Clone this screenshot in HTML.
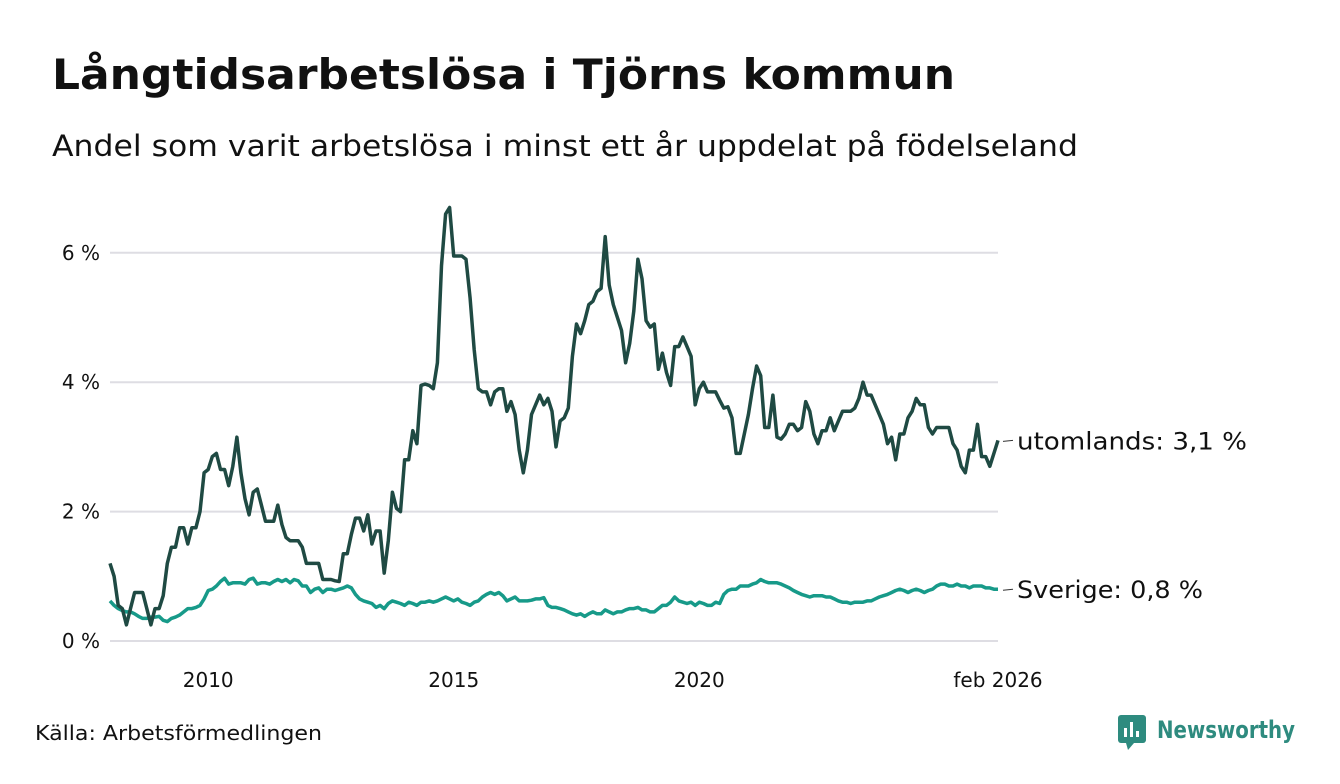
<!DOCTYPE html>
<html><head><meta charset="utf-8">
<style>
body{margin:0;background:#fff;width:1340px;height:780px;overflow:hidden;font-family:"DejaVu Sans","Liberation Sans",sans-serif;}
svg text{font-family:"DejaVu Sans","Liberation Sans",sans-serif;}
</style></head>
<body>
<svg width="1340" height="780" xmlns="http://www.w3.org/2000/svg">
<text x="52" y="89" font-size="42" font-weight="bold" fill="#111" textLength="903" lengthAdjust="spacingAndGlyphs">Långtidsarbetslösa i Tjörns kommun</text>
<text x="52" y="156" font-size="29" fill="#111" textLength="1026" lengthAdjust="spacingAndGlyphs">Andel som varit arbetslösa i minst ett år uppdelat på födelseland</text>
<g id="grid"></g>
<g id="xaxis"></g>
<g id="lines"></g>
<text x="35" y="740" font-size="20" fill="#111" textLength="287" lengthAdjust="spacingAndGlyphs">Källa: Arbetsförmedlingen</text>
<g>
<rect x="1118" y="715" width="28" height="28" rx="3" fill="#2e8b7f"/>
<rect x="1124" y="728" width="3" height="9" fill="#fff"/><rect x="1130" y="722" width="3" height="15" fill="#fff"/><rect x="1136" y="731" width="3" height="6" fill="#fff"/>
<polygon points="1126,743 1134,743 1128,750" fill="#2e8b7f"/>
<text x="1157" y="738" font-size="24" font-weight="bold" fill="#2e8b7f" textLength="138" lengthAdjust="spacingAndGlyphs">Newsworthy</text>
</g>
</svg>
<script>
const yTicks=[0,2,4,6];
const xTickYears=[2010,2015,2020];
const startYear=2008;
const utomlands=[
1.2,1.0,0.55,0.5,0.25,0.5,0.75,0.75,0.75,0.5,0.25,0.5,
0.5,0.7,1.2,1.45,1.45,1.75,1.75,1.5,1.75,1.75,2.0,2.6,
2.65,2.85,2.9,2.65,2.65,2.4,2.7,3.15,2.6,2.2,1.95,2.3,
2.35,2.1,1.85,1.85,1.85,2.1,1.8,1.6,1.55,1.55,1.55,1.45,
1.2,1.2,1.2,1.2,0.95,0.95,0.95,0.93,0.92,1.35,1.35,1.65,
1.9,1.9,1.7,1.95,1.5,1.7,1.7,1.05,1.55,2.3,2.05,2.0,
2.8,2.8,3.25,3.05,3.95,3.97,3.95,3.9,4.3,5.8,6.6,6.7,
5.95,5.95,5.95,5.9,5.3,4.5,3.9,3.85,3.85,3.65,3.85,3.9,
3.9,3.55,3.7,3.5,2.95,2.6,2.95,3.5,3.65,3.8,3.65,3.75,
3.55,3.0,3.4,3.45,3.6,4.4,4.9,4.75,4.95,5.2,5.25,5.4,
5.45,6.25,5.5,5.2,5.0,4.8,4.3,4.6,5.1,5.9,5.6,4.95,
4.85,4.9,4.2,4.45,4.15,3.95,4.55,4.55,4.7,4.55,4.4,3.65,
3.9,4.0,3.85,3.85,3.85,3.72,3.6,3.62,3.45,2.9,2.9,3.2,
3.5,3.9,4.25,4.1,3.3,3.3,3.8,3.15,3.12,3.2,3.35,3.35,
3.25,3.3,3.7,3.55,3.2,3.05,3.25,3.25,3.45,3.25,3.4,3.55,
3.55,3.55,3.6,3.75,4.0,3.8,3.8,3.65,3.5,3.35,3.05,3.15,
2.8,3.2,3.2,3.45,3.55,3.75,3.65,3.65,3.3,3.2,3.3,3.3,
3.3,3.3,3.05,2.95,2.7,2.6,2.95,2.95,3.35,2.85,2.85,2.7,
2.9,3.1];
const sverige=[
0.62,0.55,0.5,0.47,0.45,0.45,0.42,0.38,0.35,0.35,0.37,0.37,
0.38,0.32,0.3,0.35,0.37,0.4,0.45,0.5,0.5,0.52,0.55,0.65,
0.78,0.8,0.85,0.92,0.97,0.88,0.9,0.9,0.9,0.88,0.95,0.97,
0.88,0.9,0.9,0.88,0.92,0.95,0.92,0.95,0.9,0.95,0.93,0.85,
0.85,0.75,0.8,0.82,0.75,0.8,0.8,0.78,0.8,0.82,0.85,0.82,
0.72,0.65,0.62,0.6,0.58,0.52,0.55,0.5,0.58,0.62,0.6,0.58,
0.55,0.6,0.58,0.55,0.6,0.6,0.62,0.6,0.62,0.65,0.68,0.65,
0.62,0.65,0.6,0.58,0.55,0.6,0.62,0.68,0.72,0.75,0.72,0.75,
0.7,0.62,0.65,0.68,0.62,0.62,0.62,0.63,0.65,0.65,0.67,0.55,
0.52,0.52,0.5,0.48,0.45,0.42,0.4,0.42,0.38,0.42,0.45,0.42,
0.42,0.48,0.45,0.42,0.45,0.45,0.48,0.5,0.5,0.52,0.48,0.48,
0.45,0.45,0.5,0.55,0.55,0.6,0.68,0.62,0.6,0.58,0.6,0.55,
0.6,0.58,0.55,0.55,0.6,0.58,0.72,0.78,0.8,0.8,0.85,0.85,
0.85,0.88,0.9,0.95,0.92,0.9,0.9,0.9,0.88,0.85,0.82,0.78,
0.75,0.72,0.7,0.68,0.7,0.7,0.7,0.68,0.68,0.65,0.62,0.6,
0.6,0.58,0.6,0.6,0.6,0.62,0.62,0.65,0.68,0.7,0.72,0.75,
0.78,0.8,0.78,0.75,0.78,0.8,0.78,0.75,0.78,0.8,0.85,0.88,
0.88,0.85,0.85,0.88,0.85,0.85,0.82,0.85,0.85,0.85,0.82,0.82,
0.8,0.8];
const seriesLabels=["utomlands: 3,1 %","Sverige: 0,8 %"];
const NS="http://www.w3.org/2000/svg";
const X0=110,X1=998;
const pxPerMonth=(X1-X0)/(utomlands.length-1);
const xm=i=>X0+i*pxPerMonth;
const xYear=y=>X0+(y-startYear)*12*pxPerMonth;
const yv=v=>641-v*64.7;
function mk(tag,attrs,parent){const e=document.createElementNS(NS,tag);for(const k in attrs)e.setAttribute(k,attrs[k]);parent.appendChild(e);return e;}
const grid=document.getElementById('grid');
yTicks.forEach(t=>{
  const l=mk('line',{x1:X0,x2:X1,y1:yv(t),y2:yv(t),stroke:'#dedde3','stroke-width':2},grid);
  
  
  const tx=mk('text',{x:100,y:yv(t)+7,'font-size':20,fill:'#111','text-anchor':'end'},grid);
  tx.textContent=t+' %';
  
  
});
const xa=document.getElementById('xaxis');
xTickYears.forEach(y=>{
  const tx=mk('text',{x:xYear(y),y:687,'font-size':20,fill:'#111','text-anchor':'middle'},xa);
  tx.textContent=y;
  
  
});
const last=mk('text',{x:X1,y:687,'font-size':20,fill:'#111','text-anchor':'middle'},xa);
last.textContent='feb 2026';


const lines=document.getElementById('lines');
[[sverige,'#179a89','line-sverige'],[utomlands,'#1f4a43','line-utomlands']].forEach(([d,c,n])=>{
  const p=mk('polyline',{points:d.map((v,i)=>xm(i).toFixed(1)+','+yv(v).toFixed(1)).join(' '),fill:'none',stroke:c,'stroke-width':3.5,'stroke-linejoin':'round'},lines);
  
  
});
const labelWidths=[230,186];
[[utomlands,seriesLabels[0],'label-utomlands',labelWidths[0]],[sverige,seriesLabels[1],'label-sverige',labelWidths[1]]].forEach(([d,s,n,w])=>{
  const y=yv(d[d.length-1]);
  mk('line',{x1:X1+5,x2:X1+15,y1:y+1,y2:y,stroke:'#333','stroke-width':1},lines);
  const t=mk('text',{x:X1+19,y:y+9,'font-size':24,fill:'#111',textLength:w,lengthAdjust:'spacingAndGlyphs'},lines);
  t.textContent=s;
  
  
});
</script>
</body></html>
